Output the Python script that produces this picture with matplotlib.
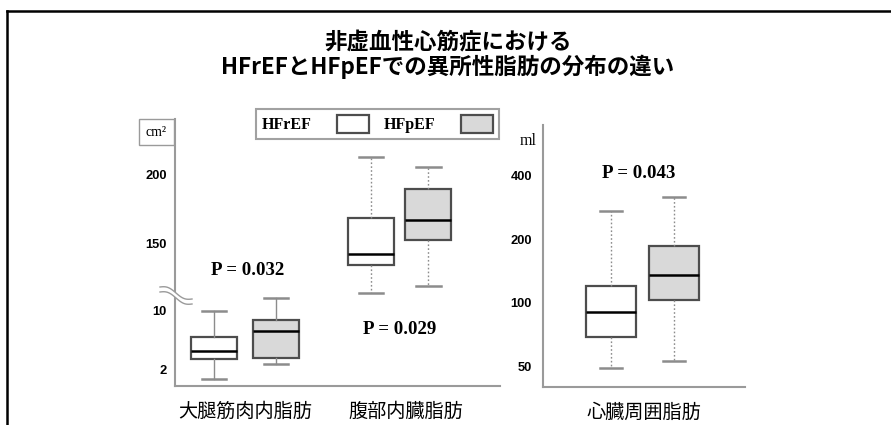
import numpy as np
import matplotlib.pyplot as plt
from matplotlib.lines import Line2D
from matplotlib.patches import Patch

plt.rcParams['font.family'] = ['Noto Sans CJK JP', 'DejaVu Sans']

W, H = 891, 425

title_lines = ["非虚血性心筋症における", "HFrEFとHFpEFでの異所性脂肪の分布の違い"]
groups = ["HFrEF", "HFpEF"]
left_sites = ["大腿筋肉内脂肪", "腹部内臓脂肪"]
right_site = ["心臓周囲脂肪"]

# whisker low, q1, median, q3, whisker high
thigh_hfref = [0.6, 3.4, 4.4, 6.4, 9.9]
thigh_hfpef = [2.7, 3.5, 7.1, 8.6, 11.7]
abdomen_hfref = [113.5, 134.3, 142.0, 167.9, 212.3]
abdomen_hfpef = [118.8, 152.4, 166.7, 188.9, 205.0]
heart_hfref = [49.0, 68.7, 89.9, 120.2, 271.5]
heart_hfpef = [52.7, 102.5, 134.6, 186.0, 316.5]

p_values = ["P = 0.032", "P = 0.029", "P = 0.043"]
left_ticks = [2, 10, 150, 200]
right_ticks = [50, 100, 200, 400]

fill_colors = ["white", "#d9d9d9"]
box_edge = "#4d4d4d"
whisk_col = "#8c8c8c"

# broken y axis for the left panel: lower part 0-12 cm2, upper part 112-240 cm2
knots_v = [-100, 12, 112.5, 1000]
knots_p = [2.25 - 737.5, 2.25 + 7.375 * 12, 143 - 37.5 * 1.38, 143 + 850 * 1.38]


def fwd(v):
    return np.interp(v, knots_v, knots_p)


def inv(p):
    return np.interp(p, knots_p, knots_v)


def stats(vals):
    lo, q1, med, q3, hi = vals
    return dict(whislo=lo, q1=q1, med=med, q3=q3, whishi=hi, fliers=[])


def draw_pair(ax, center, pair, off, width, capw, dotted):
    ls = (0, (1.2, 1.6)) if dotted else "-"
    for i, vals in enumerate(pair):
        pos = center + (-off if i == 0 else off)
        ax.bxp([stats(vals)], positions=[pos], widths=width, capwidths=capw,
               patch_artist=True, showfliers=False,
               boxprops=dict(facecolor=fill_colors[i], edgecolor=box_edge, linewidth=1.6),
               medianprops=dict(color="black", linewidth=1.8),
               whiskerprops=dict(color=whisk_col, linewidth=1.0, linestyle=ls),
               capprops=dict(color=whisk_col, linewidth=1.8))


fig = plt.figure(figsize=(W / 100, H / 100), dpi=100)

# page frame (top and left edges)
fig.add_artist(Line2D([7 / W, 1], [1 - 11 / H] * 2, color="black", lw=1.8))
fig.add_artist(Line2D([7 / W] * 2, [0, 1 - 11 / H], color="black", lw=1.8))

fig.text(448 / W, 1 - 43 / H, title_lines[0], ha="center", va="center",
         fontsize=16.2, fontweight="bold")
fig.text(448 / W, 1 - 67 / H, title_lines[1], ha="center", va="center",
         fontsize=16.2, fontweight="bold")

tick_font = dict(family="Liberation Sans", weight="bold", size=9.3)
serif_bold = dict(family="Liberation Serif", weight="bold")

# ---- left panel
ax1 = fig.add_axes([175 / W, (H - 386) / H, 325 / W, 267 / H])
ax1.set_yscale("function", functions=(fwd, inv))
draw_pair(ax1, 1, [thigh_hfref, thigh_hfpef], 0.2, 0.30, 0.16, False)
draw_pair(ax1, 2, [abdomen_hfref, abdomen_hfpef], 0.185, 0.30, 0.16, True)
ax1.set_xlim(0.547, 2.65)
ax1.set_ylim(-0.3, 240)
ax1.set_yticks(left_ticks)
ax1.set_yticklabels([str(t) for t in left_ticks], fontdict=tick_font)
ax1.tick_params(axis="y", length=0, pad=6)
ax1.set_xticks([1, 2.04])
ax1.set_xticklabels(left_sites, fontsize=13.8)
ax1.tick_params(axis="x", length=0, pad=11)
ax1.text(1.02, 130, p_values[0], ha="center", va="center", fontsize=13.6, **serif_bold)
ax1.text(2.0, 7.4, p_values[1], ha="center", va="center", fontsize=13.6, **serif_bold)

# ---- right panel
ax2 = fig.add_axes([543 / W, (H - 387) / H, 202 / W, 262 / H])
ax2.set_yscale("log")
draw_pair(ax2, 1, [heart_hfref, heart_hfpef], 0.204, 0.32, 0.145, True)
ax2.set_xlim(0.356, 1.663)
ax2.set_ylim(39.8, 694)
ax2.set_yticks(right_ticks)
ax2.set_yticklabels([str(t) for t in right_ticks], fontdict=tick_font)
ax2.yaxis.set_minor_locator(plt.NullLocator())
ax2.tick_params(axis="y", length=0, pad=8)
ax2.set_xticks([1.01])
ax2.set_xticklabels(right_site, fontsize=13.8)
ax2.tick_params(axis="x", length=0, pad=11)
ax2.text(0.977, 411, p_values[2], ha="center", va="center", fontsize=13.6, **serif_bold)

for ax in (ax1, ax2):
    for s in ("top", "right"):
        ax.spines[s].set_visible(False)
    for s in ("left", "bottom"):
        ax.spines[s].set_color("#9a9a9a")
        ax.spines[s].set_linewidth(1.5)

# axis break mark on the left panel
t = np.linspace(-1, 1, 40)
bx = (176 + 16 * t) / W
by1 = 1 - (293 + 6 * t + 2.5 * np.sin(np.pi * t)) / H
by2 = 1 - (298 + 6 * t + 2.5 * np.sin(np.pi * t)) / H
fig.patches.append(plt.Polygon(np.column_stack([np.r_[bx, bx[::-1]], np.r_[by1, by2[::-1]]]),
                               closed=True, fc="white", ec="none", transform=fig.transFigure, zorder=5))
fig.add_artist(Line2D(bx, by1, color="#9a9a9a", lw=1, zorder=6))
fig.add_artist(Line2D(bx, by2, color="#9a9a9a", lw=1, zorder=6))

# units
fig.text(156.5 / W, 1 - 132 / H, "cm²", ha="center", va="center", fontsize=10,
         family="Liberation Serif",
         bbox=dict(boxstyle="square,pad=0.5", fc="white", ec="#9a9a9a", lw=1))
fig.text(528 / W, 1 - 141 / H, "ml", ha="center", va="center", fontsize=11.5,
         family="Liberation Serif")

# legend
handles = [Patch(facecolor=fill_colors[i], edgecolor=box_edge, linewidth=1.6) for i in range(2)]
leg = fig.legend(handles, groups, ncol=2, markerfirst=False, loc="center",
                 bbox_to_anchor=(377.5 / W, 1 - 124 / H), frameon=True, fancybox=False,
                 prop=dict(family="Liberation Serif", weight="bold", size=11.5),
                 handlelength=2.0, handleheight=1.45, handletextpad=1.6,
                 columnspacing=0.9, borderpad=0.35, borderaxespad=0)
leg.get_frame().set_edgecolor("#8a8a8a")
leg.get_frame().set_linewidth(1.5)

fig.savefig("out.png", dpi=100)
